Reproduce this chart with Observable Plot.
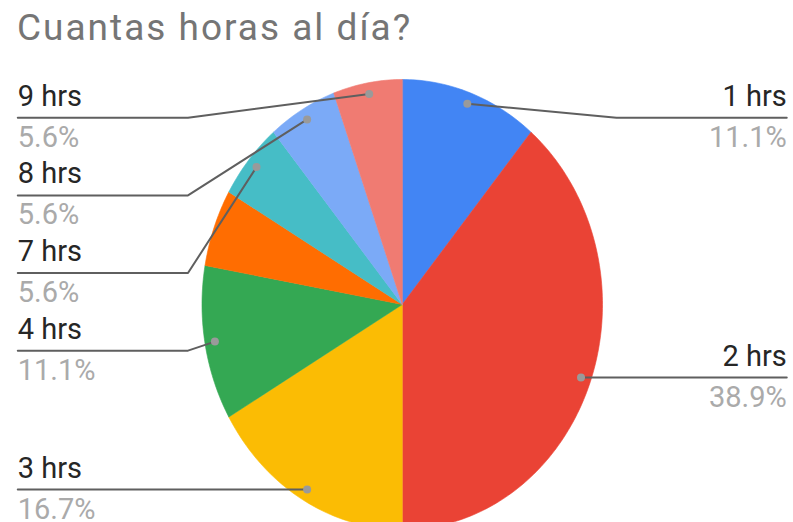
<!DOCTYPE html>
<html><head><meta charset="utf-8">
<script src="https://cdn.jsdelivr.net/npm/d3@7"></script>
<script src="https://cdn.jsdelivr.net/npm/@observablehq/plot@0.6"></script>
<style>
body{margin:0;background:#fff;width:793px;height:522px;overflow:hidden;font-family:Roboto,Arial,sans-serif}
#title{height:47px;padding:9px 0 0 17px;font-size:37px;line-height:37px;color:#757575;letter-spacing:2px;white-space:nowrap}
#chart svg{display:block}
</style></head><body>
<div id="title">Cuantas horas al día?</div>
<div id="chart"></div>
<script>
// ---- data ----
const categories = ["1 hrs","2 hrs","3 hrs","4 hrs","5 hrs","7 hrs","8 hrs","9 hrs"];
const counts = [2, 7, 3, 2, 1, 1, 1, 1];
const hiddenLabels = ["5 hrs"];
const colors = ["#4285F4","#EA4335","#FBBC04","#34A853","#FF6D01","#46BDC6","#7BAAF7","#F07B72"];

// ---- derived slices ----
const total = d3.sum(counts);
let acc = 0;
const slices = categories.map((c, i) => {
  const a0 = acc / total * 2 * Math.PI; acc += counts[i];
  const a1 = acc / total * 2 * Math.PI;
  return {key: c, a0, a1, mid: (a0 + a1) / 2, pct: d3.format(".1f")(counts[i] / total * 100) + "%"};
});
const poly = slices.flatMap(s => {
  const n = Math.max(2, Math.ceil((s.a1 - s.a0) / (Math.PI / 180)));
  const pts = [{key: s.key, x: 0, y: 0}];
  for (let k = 0; k <= n; k++) {
    const a = s.a0 + (s.a1 - s.a0) * k / n;
    pts.push({key: s.key, x: Math.sin(a), y: Math.cos(a)});
  }
  return pts;
});

// ---- label layout (radius units) ----
const dotR = 0.95, minGap = 0.345, topY = 0.83, elbowX = 1.07, edgeX = 1.92;
const labels = slices.filter(s => !hiddenLabels.includes(s.key)).map(s => ({
  key: s.key, pct: s.pct,
  dx: dotR * Math.sin(s.mid), dy: dotR * Math.cos(s.mid),
  side: Math.sin(s.mid) >= 0 ? 1 : -1
}));
for (const side of [1, -1]) {
  const group = labels.filter(l => l.side === side).sort((a, b) => b.dy - a.dy);
  let prev = Infinity;
  for (const l of group) { const y = Math.min(l.dy, topY, prev - minGap); l.ly = y; prev = y; }
}
const leader = labels.flatMap(l => [
  {key: l.key, x: l.dx, y: l.dy},
  {key: l.key, x: l.side * elbowX, y: l.ly},
  {key: l.key, x: l.side * edgeX, y: l.ly}
]);
const L = labels.filter(l => l.side < 0), R = labels.filter(l => l.side > 0);

const chart = Plot.plot({
  width: 793, height: 475, margin: 0,
  x: {domain: [-1, 1], range: [201.5, 602], axis: null},
  y: {domain: [-1, 1], range: [473, 23], axis: null},
  color: {domain: categories, range: colors},
  style: {fontFamily: "Roboto, Arial, sans-serif", background: "white"},
  marks: [
    Plot.line(poly, {x: "x", y: "y", z: "key", fill: "key", stroke: "key", strokeWidth: 0.6, curve: "linear-closed"}),
    Plot.line(leader, {x: "x", y: "y", z: "key", stroke: "#5f5f5f", strokeWidth: 2}),
    Plot.dot(labels, {x: "dx", y: "dy", r: 4, fill: "#9a9a9a", stroke: null}),
    Plot.text(L, {x: d => -edgeX, y: "ly", text: "key", textAnchor: "start", lineAnchor: "bottom", dy: -12, fontSize: 29, fill: "#262626"}),
    Plot.text(L, {x: d => -edgeX, y: "ly", text: "pct", textAnchor: "start", lineAnchor: "bottom", dy: 29, fontSize: 29, fill: "#aaaaaa"}),
    Plot.text(R, {x: d => edgeX, y: "ly", text: "key", textAnchor: "end", lineAnchor: "bottom", dy: -12, fontSize: 29, fill: "#262626"}),
    Plot.text(R, {x: d => edgeX, y: "ly", text: "pct", textAnchor: "end", lineAnchor: "bottom", dy: 29, fontSize: 29, fill: "#aaaaaa"})
  ]
});
document.getElementById("chart").appendChild(chart);
</script>
</body></html>
